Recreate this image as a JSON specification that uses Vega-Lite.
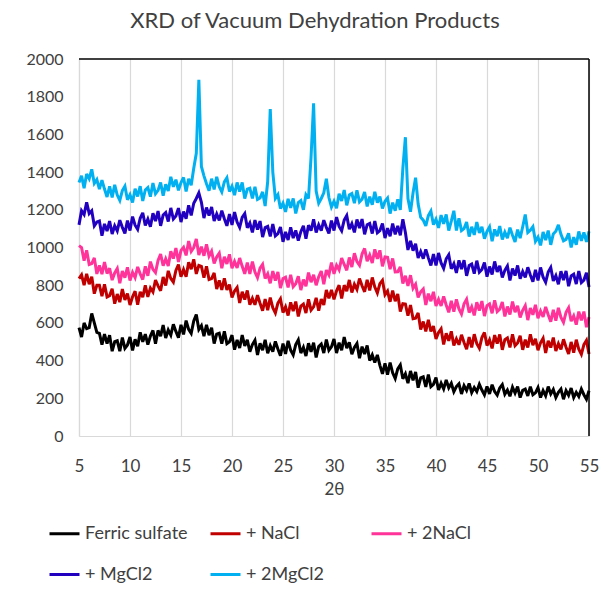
{
"$schema":"https://vega.github.io/schema/vega-lite/v6.json",
"width":510,"height":377,
"autosize":{"type":"none"},
"padding":{"left":79,"top":59,"right":20,"bottom":154},
"background":"white",
"title":{"text":"XRD of Vacuum Dehydration Products","font":"Lato","fontSize":22,"fontWeight":"normal","color":"#404040","offset":18,"dx":-19},
"config":{"view":{"stroke":null},"font":"Lato",
"axisX":{"tickCount":20,"grid":true,"gridColor":"#d9d9d9","gridWidth":1.2,"ticks":false,"domainColor":"#d9d9d9","domainWidth":1.2,"labelFontSize":17,"labelColor":"#404040","labelPadding":22,"labelFlush":false,"labelOverlap":false,"titleFontSize":17,"titleFontWeight":"normal","titleColor":"#404040","titlePadding":7},
"axisY":{"tickCount":20,"grid":false,"ticks":false,"domainColor":"#d9d9d9","domainWidth":1.2,"labelFontSize":16,"labelColor":"#404040","labelPadding":16,"labelOverlap":false,"labelFlush":false}},
"datasets":{
"names":[{"k":"a","name":"Ferric sulfate"},{"k":"b","name":"+ NaCl"},{"k":"c","name":"+ 2NaCl"},{"k":"d","name":"+ MgCl2"},{"k":"e","name":"+ 2MgCl2"}],
"xrd":[
{"x":5,"a":575,"b":835,"c":1010,"d":1120,"e":1345},
{"x":5.25,"a":525,"b":855,"c":1000,"d":1195,"e":1380},
{"x":5.5,"a":600,"b":800,"c":930,"d":1175,"e":1315},
{"x":5.75,"a":570,"b":860,"c":985,"d":1240,"e":1390},
{"x":6,"a":575,"b":805,"c":910,"d":1180,"e":1365},
{"x":6.25,"a":650,"b":845,"c":915,"d":1195,"e":1415},
{"x":6.5,"a":600,"b":755,"c":945,"d":1115,"e":1340},
{"x":6.75,"a":550,"b":800,"c":860,"d":1135,"e":1360},
{"x":7,"a":545,"b":800,"c":905,"d":1140,"e":1310},
{"x":7.25,"a":485,"b":742,"c":859,"d":1063,"e":1357},
{"x":7.5,"a":540,"b":805,"c":923,"d":1125,"e":1310},
{"x":7.75,"a":490,"b":738,"c":862,"d":1087,"e":1268},
{"x":8,"a":535,"b":745,"c":890,"d":1140,"e":1325},
{"x":8.25,"a":450,"b":781,"c":827,"d":1072,"e":1266},
{"x":8.5,"a":500,"b":702,"c":865,"d":1115,"e":1332},
{"x":8.75,"a":505,"b":753,"c":888,"d":1088,"e":1278},
{"x":9,"a":450,"b":710,"c":810,"d":1145,"e":1250},
{"x":9.25,"a":522,"b":779,"c":875,"d":1107,"e":1302},
{"x":9.5,"a":465,"b":722,"c":840,"d":1075,"e":1325},
{"x":9.75,"a":483,"b":756,"c":895,"d":1143,"e":1253},
{"x":10,"a":525,"b":695,"c":825,"d":1090,"e":1280},
{"x":10.25,"a":454,"b":739,"c":868,"d":1164,"e":1239},
{"x":10.5,"a":513,"b":768,"c":840,"d":1118,"e":1312},
{"x":10.75,"a":476,"b":696,"c":897,"d":1096,"e":1271},
{"x":11,"a":550,"b":765,"c":860,"d":1155,"e":1325},
{"x":11.25,"a":500,"b":737,"c":830,"d":1184,"e":1247},
{"x":11.5,"a":540,"b":800,"c":900,"d":1117,"e":1305},
{"x":11.75,"a":485,"b":738,"c":850,"d":1151,"e":1318},
{"x":12,"a":530,"b":785,"c":925,"d":1110,"e":1270},
{"x":12.25,"a":560,"b":764,"c":884,"d":1182,"e":1342},
{"x":12.5,"a":490,"b":827,"c":867,"d":1140,"e":1285},
{"x":12.75,"a":560,"b":796,"c":931,"d":1193,"e":1303},
{"x":13,"a":530,"b":770,"c":965,"d":1115,"e":1345},
{"x":13.25,"a":588,"b":844,"c":903,"d":1172,"e":1275},
{"x":13.5,"a":520,"b":798,"c":940,"d":1185,"e":1335},
{"x":13.75,"a":562,"b":876,"c":902,"d":1138,"e":1300},
{"x":14,"a":535,"b":835,"c":980,"d":1210,"e":1375},
{"x":14.25,"a":593,"b":816,"c":941,"d":1151,"e":1322},
{"x":14.5,"a":555,"b":878,"c":997,"d":1167,"e":1360},
{"x":14.75,"a":522,"b":909,"c":923,"d":1209,"e":1303},
{"x":15,"a":590,"b":845,"c":985,"d":1135,"e":1345},
{"x":15.25,"a":539,"b":883,"c":1001,"d":1191,"e":1371},
{"x":15.5,"a":612,"b":845,"c":958,"d":1153,"e":1297},
{"x":15.75,"a":566,"b":922,"c":1034,"d":1224,"e":1364},
{"x":16,"a":545,"b":885,"c":980,"d":1170,"e":1330},
{"x":16.25,"a":610,"b":937,"c":1000,"d":1235,"e":1420},
{"x":16.5,"a":645,"b":860,"c":1045,"d":1260,"e":1500},
{"x":16.75,"a":565,"b":905,"c":960,"d":1290,"e":1890},
{"x":17,"a":585,"b":900,"c":1005,"d":1240,"e":1430},
{"x":17.25,"a":530,"b":840,"c":956,"d":1156,"e":1380},
{"x":17.5,"a":590,"b":900,"c":1017,"d":1212,"e":1338},
{"x":17.75,"a":535,"b":830,"c":954,"d":1169,"e":1301},
{"x":18,"a":575,"b":835,"c":980,"d":1215,"e":1365},
{"x":18.25,"a":490,"b":865,"c":915,"d":1141,"e":1308},
{"x":18.5,"a":540,"b":780,"c":950,"d":1178,"e":1375},
{"x":18.75,"a":545,"b":825,"c":970,"d":1144,"e":1322},
{"x":19,"a":490,"b":775,"c":890,"d":1195,"e":1295},
{"x":19.25,"a":555,"b":837,"c":951,"d":1153,"e":1348},
{"x":19.5,"a":490,"b":775,"c":913,"d":1115,"e":1370},
{"x":19.75,"a":500,"b":803,"c":964,"d":1177,"e":1297},
{"x":20,"a":535,"b":735,"c":890,"d":1120,"e":1325},
{"x":20.25,"a":458,"b":769,"c":926,"d":1188,"e":1278},
{"x":20.5,"a":510,"b":788,"c":892,"d":1135,"e":1345},
{"x":20.75,"a":467,"b":706,"c":944,"d":1107,"e":1297},
{"x":21,"a":535,"b":765,"c":900,"d":1160,"e":1345},
{"x":21.25,"a":478,"b":724,"c":860,"d":1180,"e":1260},
{"x":21.5,"a":510,"b":772,"c":920,"d":1105,"e":1310},
{"x":21.75,"a":447,"b":696,"c":860,"d":1130,"e":1315},
{"x":22,"a":485,"b":730,"c":925,"d":1080,"e":1260},
{"x":22.25,"a":508,"b":696,"c":870,"d":1145,"e":1322},
{"x":22.5,"a":430,"b":747,"c":840,"d":1095,"e":1255},
{"x":22.75,"a":492,"b":704,"c":890,"d":1140,"e":1263},
{"x":23,"a":455,"b":665,"c":910,"d":1055,"e":1295},
{"x":23.25,"a":510,"b":726,"c":835,"d":1106,"e":1220},
{"x":23.5,"a":439,"b":668,"c":860,"d":1112,"e":1350},
{"x":23.75,"a":479,"b":734,"c":810,"d":1059,"e":1735},
{"x":24,"a":448,"b":680,"c":875,"d":1125,"e":1400},
{"x":24.25,"a":502,"b":653,"c":825,"d":1061,"e":1260},
{"x":24.5,"a":462,"b":705,"c":870,"d":1073,"e":1280},
{"x":24.75,"a":426,"b":727,"c":785,"d":1109,"e":1207},
{"x":25,"a":490,"b":655,"c":835,"d":1030,"e":1235},
{"x":25.25,"a":435,"b":685,"c":842,"d":1083,"e":1189},
{"x":25.5,"a":505,"b":639,"c":788,"d":1040,"e":1258},
{"x":25.75,"a":455,"b":709,"c":855,"d":1107,"e":1211},
{"x":26,"a":430,"b":663,"c":792,"d":1050,"e":1260},
{"x":26.25,"a":485,"b":713,"c":808,"d":1091,"e":1181},
{"x":26.5,"a":510,"b":634,"c":848,"d":1037,"e":1238},
{"x":26.75,"a":440,"b":689,"c":774,"d":1084,"e":1249},
{"x":27,"a":470,"b":700,"c":830,"d":1115,"e":1200},
{"x":27.25,"a":424,"b":652,"c":794,"d":1046,"e":1280},
{"x":27.5,"a":492,"b":725,"c":867,"d":1118,"e":1260},
{"x":27.75,"a":446,"b":668,"c":816,"d":1089,"e":1480},
{"x":28,"a":495,"b":685,"c":855,"d":1150,"e":1765},
{"x":28.25,"a":417,"b":733,"c":800,"d":1080,"e":1300},
{"x":28.5,"a":475,"b":665,"c":845,"d":1120,"e":1235},
{"x":28.75,"a":488,"b":727,"c":875,"d":1090,"e":1260},
{"x":29,"a":440,"b":695,"c":805,"d":1145,"e":1290},
{"x":29.25,"a":512,"b":775,"c":880,"d":1107,"e":1365},
{"x":29.5,"a":455,"b":730,"c":855,"d":1075,"e":1265},
{"x":29.75,"a":473,"b":775,"c":920,"d":1143,"e":1215},
{"x":30,"a":515,"b":725,"c":860,"d":1090,"e":1245},
{"x":30.25,"a":440,"b":770,"c":906,"d":1161,"e":1208},
{"x":30.5,"a":495,"b":800,"c":882,"d":1112,"e":1285},
{"x":30.75,"a":455,"b":730,"c":944,"d":1089,"e":1247},
{"x":31,"a":525,"b":800,"c":910,"d":1145,"e":1305},
{"x":31.25,"a":466,"b":769,"c":879,"d":1169,"e":1224},
{"x":31.5,"a":497,"b":828,"c":947,"d":1097,"e":1278},
{"x":31.75,"a":434,"b":761,"c":896,"d":1126,"e":1286},
{"x":32,"a":470,"b":805,"c":970,"d":1080,"e":1235},
{"x":32.25,"a":491,"b":778,"c":925,"d":1149,"e":1304},
{"x":32.5,"a":413,"b":835,"c":905,"d":1103,"e":1242},
{"x":32.75,"a":474,"b":797,"c":965,"d":1151,"e":1256},
{"x":33,"a":435,"b":765,"c":995,"d":1070,"e":1295},
{"x":33.25,"a":480,"b":829,"c":927,"d":1121,"e":1218},
{"x":33.5,"a":400,"b":772,"c":960,"d":1128,"e":1270},
{"x":33.75,"a":430,"b":841,"c":918,"d":1074,"e":1227},
{"x":34,"a":390,"b":790,"c":990,"d":1140,"e":1295},
{"x":34.25,"a":430,"b":759,"c":940,"d":1078,"e":1238},
{"x":34.5,"a":375,"b":808,"c":985,"d":1090,"e":1270},
{"x":34.75,"a":330,"b":826,"c":900,"d":1127,"e":1207},
{"x":35,"a":385,"b":750,"c":950,"d":1050,"e":1245},
{"x":35.25,"a":325,"b":769,"c":948,"d":1103,"e":1262},
{"x":35.5,"a":390,"b":712,"c":885,"d":1060,"e":1180},
{"x":35.75,"a":335,"b":771,"c":942,"d":1127,"e":1238},
{"x":36,"a":305,"b":715,"c":870,"d":1070,"e":1195},
{"x":36.25,"a":356,"b":753,"c":871,"d":1115,"e":1255},
{"x":36.5,"a":377,"b":660,"c":897,"d":1065,"e":1200},
{"x":36.75,"a":304,"b":702,"c":809,"d":1150,"e":1420},
{"x":37,"a":330,"b":700,"c":850,"d":1080,"e":1585},
{"x":37.25,"a":280,"b":638,"c":796,"d":987,"e":1260},
{"x":37.5,"a":345,"b":695,"c":853,"d":1035,"e":1190},
{"x":37.75,"a":295,"b":622,"c":784,"d":983,"e":1290},
{"x":38,"a":340,"b":625,"c":805,"d":1020,"e":1370},
{"x":38.25,"a":256,"b":653,"c":735,"d":944,"e":1230},
{"x":38.5,"a":308,"b":565,"c":765,"d":978,"e":1160},
{"x":38.75,"a":314,"b":607,"c":780,"d":941,"e":1145},
{"x":39,"a":260,"b":555,"c":695,"d":990,"e":1115},
{"x":39.25,"a":326,"b":617,"c":755,"d":945,"e":1169},
{"x":39.5,"a":262,"b":555,"c":715,"d":905,"e":1193},
{"x":39.75,"a":274,"b":583,"c":765,"d":965,"e":1121},
{"x":40,"a":310,"b":515,"c":690,"d":905,"e":1150},
{"x":40.25,"a":244,"b":549,"c":725,"d":971,"e":1104},
{"x":40.5,"a":280,"b":568,"c":690,"d":918,"e":1172},
{"x":40.75,"a":250,"b":486,"c":740,"d":889,"e":1126},
{"x":41,"a":297,"b":545,"c":695,"d":940,"e":1175},
{"x":41.25,"a":256,"b":505,"c":656,"d":961,"e":1090},
{"x":41.5,"a":280,"b":555,"c":717,"d":887,"e":1140},
{"x":41.75,"a":235,"b":480,"c":659,"d":914,"e":1195},
{"x":42,"a":262,"b":515,"c":725,"d":865,"e":1090},
{"x":42.25,"a":277,"b":484,"c":674,"d":932,"e":1155},
{"x":42.5,"a":223,"b":537,"c":647,"d":885,"e":1090},
{"x":42.75,"a":267,"b":496,"c":701,"d":933,"e":1100},
{"x":43,"a":242,"b":460,"c":725,"d":850,"e":1135},
{"x":43.25,"a":279,"b":525,"c":655,"d":904,"e":1058},
{"x":43.5,"a":230,"b":470,"c":685,"d":912,"e":1110},
{"x":43.75,"a":257,"b":540,"c":640,"d":861,"e":1067},
{"x":44,"a":236,"b":490,"c":710,"d":930,"e":1135},
{"x":44.25,"a":274,"b":466,"c":665,"d":869,"e":1078},
{"x":44.5,"a":244,"b":522,"c":716,"d":883,"e":1110},
{"x":44.75,"a":218,"b":549,"c":636,"d":921,"e":1047},
{"x":45,"a":263,"b":480,"c":692,"d":845,"e":1085},
{"x":45.25,"a":223,"b":510,"c":701,"d":899,"e":1109},
{"x":45.5,"a":272,"b":465,"c":651,"d":857,"e":1033},
{"x":45.75,"a":236,"b":535,"c":720,"d":926,"e":1096},
{"x":46,"a":217,"b":490,"c":660,"d":870,"e":1060},
{"x":46.25,"a":255,"b":539,"c":673,"d":903,"e":1114},
{"x":46.5,"a":273,"b":457,"c":711,"d":841,"e":1042},
{"x":46.75,"a":222,"b":511,"c":634,"d":879,"e":1081},
{"x":47,"a":244,"b":520,"c":687,"d":902,"e":1050},
{"x":47.25,"a":211,"b":470,"c":645,"d":825,"e":1105},
{"x":47.5,"a":259,"b":539,"c":713,"d":888,"e":1065},
{"x":47.75,"a":228,"b":479,"c":657,"d":851,"e":1030},
{"x":48,"a":262,"b":493,"c":690,"d":905,"e":1095},
{"x":48.25,"a":204,"b":532,"c":629,"d":834,"e":1050},
{"x":48.5,"a":242,"b":457,"c":667,"d":872,"e":1110},
{"x":48.75,"a":249,"b":511,"c":691,"d":841,"e":1175},
{"x":49,"a":213,"b":470,"c":615,"d":895,"e":1080},
{"x":49.25,"a":262,"b":539,"c":679,"d":854,"e":1092},
{"x":49.5,"a":219,"b":482,"c":643,"d":818,"e":1110},
{"x":49.75,"a":229,"b":516,"c":696,"d":881,"e":1033},
{"x":50,"a":257,"b":455,"c":625,"d":825,"e":1055},
{"x":50.25,"a":204,"b":494,"c":663,"d":894,"e":1011},
{"x":50.5,"a":241,"b":518,"c":632,"d":842,"e":1082},
{"x":50.75,"a":213,"b":441,"c":685,"d":816,"e":1039},
{"x":51,"a":262,"b":505,"c":643,"d":870,"e":1090},
{"x":51.25,"a":223,"b":469,"c":606,"d":894,"e":1014},
{"x":51.5,"a":247,"b":522,"c":669,"d":823,"e":1072},
{"x":51.75,"a":204,"b":451,"c":612,"d":851,"e":1086},
{"x":52,"a":232,"b":490,"c":680,"d":805,"e":1120},
{"x":52.25,"a":249,"b":459,"c":629,"d":874,"e":1070},
{"x":52.5,"a":195,"b":513,"c":603,"d":827,"e":1035},
{"x":52.75,"a":241,"b":471,"c":656,"d":876,"e":1043},
{"x":53,"a":216,"b":435,"c":680,"d":795,"e":1075},
{"x":53.25,"a":254,"b":499,"c":609,"d":849,"e":1000},
{"x":53.5,"a":204,"b":442,"c":637,"d":858,"e":1055},
{"x":53.75,"a":232,"b":511,"c":591,"d":806,"e":1015},
{"x":54,"a":210,"b":460,"c":660,"d":875,"e":1085},
{"x":54.25,"a":249,"b":433,"c":613,"d":814,"e":1035},
{"x":54.5,"a":219,"b":485,"c":660,"d":827,"e":1080},
{"x":54.75,"a":195,"b":507,"c":577,"d":866,"e":1030},
{"x":55,"a":240,"b":435,"c":630,"d":790,"e":1085}
]},
"layer":[
{"data":{"name":"xrd"},
"transform":[{"fold":["a","b","c","d","e"],"as":["k","value"]},{"lookup":"k","from":{"data":{"name":"names"},"key":"k","fields":["name"]}}],
"mark":{"type":"line","strokeWidth":3,"strokeJoin":"miter","strokeMiterLimit":3},
"encoding":{
"x":{"field":"x","type":"quantitative","scale":{"domain":[5,55],"nice":false,"zero":false},"axis":{"title":"2θ","tickCount":20,"values":[5,10,15,20,25,30,35,40,45,50,55]}},
"y":{"field":"value","type":"quantitative","scale":{"domain":[0,2000],"nice":false},"axis":{"title":null,"format":"d","tickCount":20,"values":[0,200,400,600,800,1000,1200,1400,1600,1800,2000]}},
"color":{"field":"name","type":"nominal","scale":{"domain":["Ferric sulfate","+ NaCl","+ 2NaCl","+ MgCl2","+ 2MgCl2"],"range":["#000000","#c00000","#ff3399","#2200c0","#00b0f0"]},
"legend":{"orient":"none","direction":"horizontal","legendX":-31,"legendY":458,"columns":3,"gridAlign":"all","columnPadding":16,"rowPadding":15,"symbolType":"stroke","symbolSize":900,"symbolStrokeWidth":3,"labelFontSize":18,"labelColor":"#404040","labelOffset":4,"title":null}}
}},
{"data":{"values":[{}]},"mark":{"type":"rule","color":"#000000","strokeWidth":1.5},"encoding":{"y":{"datum":2000,"axis":{"title":null,"format":"d","tickCount":20,"values":[0,200,400,600,800,1000,1200,1400,1600,1800,2000]}}}},
{"data":{"values":[{}]},"mark":{"type":"rule","color":"#000000","strokeWidth":1.5},"encoding":{"x":{"datum":55,"axis":{"title":"2θ","tickCount":20,"values":[5,10,15,20,25,30,35,40,45,50,55]}}}}
]
}
